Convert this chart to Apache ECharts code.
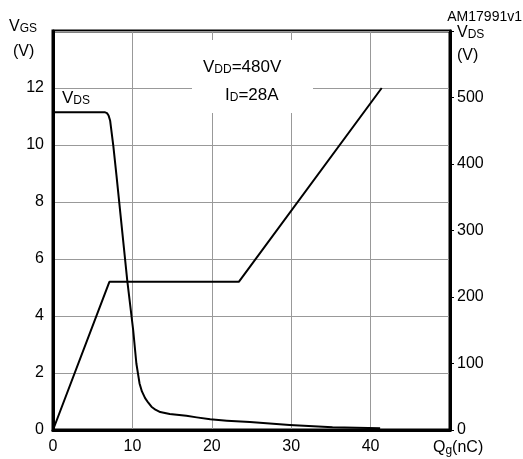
<!DOCTYPE html>
<html>
<head>
<meta charset="utf-8">
<script src="https://cdn.jsdelivr.net/npm/echarts@6/dist/echarts.min.js"></script>
<style>
  html, body { margin: 0; padding: 0; background: #fff; }
  #chart { width: 523px; height: 459px; }
</style>
</head>
<body>
<div id="chart"></div>
<script>
// gate charge Qg (nC) vs VGS (left axis)
var vgs_qg = [0, 7.1, 23.4, 41.4];
var vgs_val = [0, 5.2, 5.2, 12.0];

// VDS (right axis) vs Qg
var vds_qg = [0, 6.5, 6.8, 7.0, 7.2, 7.6, 8.0, 9.35, 10.1, 10.5, 10.9, 11.2, 11.6, 12.0, 12.4, 12.9, 13.5, 14.7, 16.8, 18.1, 19.8, 21.9, 24.8, 29.8, 35.2, 41.2];
var vds_val = [478, 478, 476.5, 473, 465, 427, 382, 225, 150, 100, 70, 58, 48, 41, 35, 30.5, 27, 24, 21.4, 19, 16, 14, 12, 7.5, 4, 2.5];

var x_ticks = [0, 10, 20, 30, 40];
var vgs_ticks = [0, 2, 4, 6, 8, 10, 12];
var vds_ticks = [0, 100, 200, 300, 400, 500];

var font = 'Liberation Sans, Arial, Helvetica, sans-serif';

function pairs(xs, ys) {
  return xs.map(function (x, i) { return [x, ys[i]]; });
}

// text with small-cap style subscript on the same baseline
function sub_text(text, size, left, top) {
  return {
    type: 'text', z: 5, left: left, top: top,
    style: {
      text: text, font: size + 'px ' + font, fill: '#000',
      rich: {
        b: { fontSize: size, fontFamily: font, verticalAlign: 'bottom' },
        s: { fontSize: 12, fontFamily: font, verticalAlign: 'bottom' }
      }
    }
  };
}

var dom = document.getElementById('chart');
var myChart = echarts.init(dom, null, { renderer: 'canvas' });

var option = {
  animation: false,
  backgroundColor: '#fff',
  textStyle: { fontFamily: font, color: '#000' },
  grid: {
    left: 53, top: 31, right: 73, bottom: 29,
    show: true, borderColor: '#000', borderWidth: 3
  },
  xAxis: {
    type: 'value', min: 0, max: 50, interval: 10,
    axisLine: { show: true, lineStyle: { color: '#000', width: 3 } },
    axisTick: { show: false },
    splitLine: { show: true, lineStyle: { color: '#999', width: 1 } },
    axisLabel: {
      margin: 9, fontSize: 16, color: '#000', fontFamily: font,
      formatter: function (v) { return x_ticks.indexOf(v) >= 0 ? String(v) : ''; }
    },
    name: 'Q{s|g}(nC)',
    nameLocation: 'end',
    nameGap: -17,
    nameTextStyle: {
      align: 'left', verticalAlign: 'top', padding: [9, 0, 0, 0],
      fontSize: 16, color: '#000', fontFamily: font,
      rich: { s: { fontSize: 12, verticalAlign: 'bottom', padding: [6, 0, 0, 0], fontFamily: font } }
    }
  },
  yAxis: [
    {
      type: 'value', min: 0, max: 14, interval: 2,
      axisLine: { show: true, lineStyle: { color: '#000', width: 3 } },
      axisTick: { show: false },
      splitLine: { show: true, lineStyle: { color: '#999', width: 1 } },
      axisLabel: {
        margin: 9, fontSize: 16, color: '#000', fontFamily: font,
        formatter: function (v) { return vgs_ticks.indexOf(v) >= 0 ? String(v) : ''; }
      }
    },
    {
      type: 'value', min: 0, max: 600, interval: 100, position: 'right',
      axisLine: { show: true, lineStyle: { color: '#000', width: 3 } },
      axisTick: { show: true, length: 4, inside: false, lineStyle: { color: '#000', width: 1 } },
      splitLine: { show: false },
      axisLabel: {
        margin: 7, fontSize: 16, color: '#000', fontFamily: font,
        formatter: function (v) { return vds_ticks.indexOf(v) >= 0 ? String(v) : ''; }
      }
    }
  ],
  graphic: [
    { type: 'rect', z: 1, shape: { x: 192, y: 40, width: 121, height: 73 }, style: { fill: '#fff' } },
    sub_text('{b|V}{s|GS}', 16, 9, 19),
    { type: 'text', z: 5, left: 13, top: 44, style: { text: '(V)', font: '16px ' + font, fill: '#000' } },
    sub_text('{b|V}{s|DS}', 16, 457, 25),
    { type: 'text', z: 5, left: 457, top: 48, style: { text: '(V)', font: '16px ' + font, fill: '#000' } },
    { type: 'text', z: 5, right: 1, top: 10, style: { text: 'AM17991v1', font: '14px ' + font, fill: '#000' } },
    sub_text('{b|V}{s|DD}{b|=480V}', 17, 203, 59),
    sub_text('{b|I}{s|D}{b|=28A}', 17, 225, 87),
    sub_text('{b|V}{s|DS}', 17, 62, 90)
  ],
  series: [
    {
      name: 'VGS', type: 'line', yAxisIndex: 0, z: 3,
      data: pairs(vgs_qg, vgs_val),
      showSymbol: false, symbol: 'none',
      lineStyle: { color: '#000', width: 2 }
    },
    {
      name: 'VDS', type: 'line', yAxisIndex: 1, z: 3,
      data: pairs(vds_qg, vds_val),
      showSymbol: false, symbol: 'none', smooth: false,
      lineStyle: { color: '#000', width: 2, join: 'round' }
    }
  ]
};

myChart.setOption(option);
window.addEventListener('resize', myChart.resize);
</script>
</body>
</html>
